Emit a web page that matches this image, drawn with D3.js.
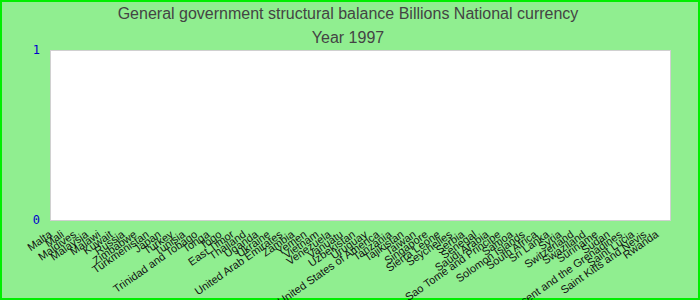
<!DOCTYPE html>
<html><head><meta charset="utf-8">
<script src="https://cdn.jsdelivr.net/npm/d3@7"></script>
<style>
html,body{margin:0;padding:0;background:#90EE90;}
svg{display:block;}
</style></head>
<body>
<script>
const titleLines = ["General government structural balance Billions National currency", "Year 1997"];
const categories = ["Malta","Mali","Maldives","Malaysia","Malawi","Kuwait","Russia","Zimbabwe","Turkmenistan","Japan","Turkey","Tunisia","Trinidad and Tobago","Tonga","Togo","East Timor","Thailand","Uganda","Ukraine","United Arab Emirates","Zambia","Yemen","Vietnam","Venezuela","Vanuatu","Uzbekistan","Uruguay","United States of America","Tanzania","Tajikistan","Taiwan","Singapore","Sierra Leone","Seychelles","Serbia","Senegal","Saudi Arabia","Sao Tome and Principe","Samoa","Solomon Islands","South Africa","Sri Lanka","Syria","Switzerland","Swaziland","Suriname","Sudan","Saint Vincent and the Grenadines","Saint Lucia","Saint Kitts and Nevis","Rwanda"];
const values = categories.map(() => 0);
const yTicks = [0, 1];

const W = 700, H = 300;
const svg = d3.select("body").append("svg").attr("width", W).attr("height", H);
svg.append("rect").attr("x",1).attr("y",1).attr("width",W-2).attr("height",H-2)
  .attr("fill","#90EE90").attr("stroke","#00ee00").attr("stroke-width",2);

const x = d3.scaleBand().domain(categories).range([50, 670]).padding(0.1);
const y = d3.scaleLinear().domain([0, 1]).range([220, 50]);

svg.append("rect").attr("x",50.5).attr("y",50.5).attr("width",620).attr("height",170)
  .attr("fill","#fff").attr("stroke","#d0d0d0").attr("stroke-width",1);

svg.selectAll("text.title").data(titleLines).join("text")
  .attr("x", 348).attr("y", (d,i) => 19 + i*24)
  .attr("text-anchor","middle").attr("fill","#444")
  .style("font-family","Liberation Sans, Arial, sans-serif").style("font-size","16px")
  .text(d => d);

svg.selectAll("rect.bar").data(values).join("rect").attr("class","bar")
  .attr("x",(d,i)=>x(categories[i])).attr("width",x.bandwidth())
  .attr("y",d=>y(Math.max(0,d))).attr("height",d=>Math.abs(y(d)-y(0)))
  .attr("fill","#4682b4");

const yAxis = svg.append("g").attr("transform","translate(50,0)")
  .call(d3.axisLeft(y).tickValues(yTicks).tickSize(0).tickPadding(10).tickFormat(d3.format("d")));
yAxis.select(".domain").remove();
yAxis.selectAll("text").attr("fill","#0000cd")
  .style("font-family","DejaVu Sans Mono, monospace").style("font-size","12px");

const xAxis = svg.append("g").attr("transform","translate(0,220)")
  .call(d3.axisBottom(x).tickSize(0).tickPadding(0));
xAxis.select(".domain").remove();
xAxis.selectAll("text")
  .attr("text-anchor","end").attr("dy","0").attr("y",0)
  .attr("transform", d => "translate(-4,16) rotate(-35)")
  .attr("fill","#111")
  .style("font-family","Liberation Sans, Arial, sans-serif").style("font-size","11px");
</script>
</body></html>
